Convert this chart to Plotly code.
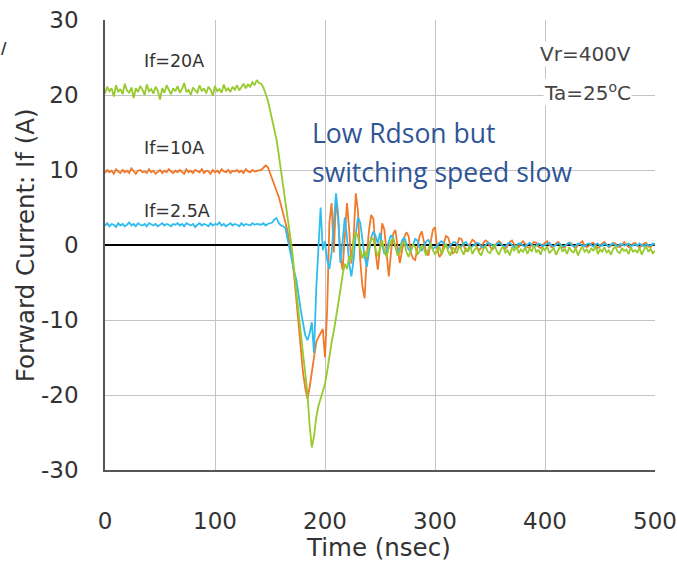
import plotly.graph_objects as go

# ---- time grid (ns)
t_flat = list(range(0, 141, 2))        # 71 samples
t_trans = list(range(142, 301, 2))     # 80 samples
t_tail = list(range(302, 501, 2))      # 100 samples
time_ns = t_flat + t_trans + t_tail

# ---- If = 20A (green)
green_flat = [20.2, 21.1, 20.5, 20.9, 19.8, 21.3, 20.4, 20.8, 20.1, 21.5,
              20.6, 20.3, 21.0, 19.6, 20.9, 20.4, 21.2, 20.7, 20.0, 21.4,
              20.5, 20.8, 20.2, 21.1, 20.6, 19.4, 20.9, 20.3, 21.3, 20.6,
              20.1, 20.9, 20.5, 21.2, 20.3, 20.8, 21.6, 20.4, 20.7, 20.0,
              21.0, 20.6, 20.3, 21.3, 20.5, 20.9, 20.2, 21.1, 20.7, 19.9,
              21.2, 20.5, 20.8, 20.3, 21.4, 20.6, 20.9, 20.4, 21.1, 20.7,
              21.3, 20.6, 21.0, 21.5, 20.9, 21.4, 21.1, 21.7, 21.3, 22.0,
              21.6]
green_trans = [21.5, 21.0, 20.2, 19.3, 18.0, 16.8, 15.4, 14.0, 12.0, 10.0,
               7.7, 5.6, 3.5, 1.5, -0.5, -3.5, -6.4, -9.0, -11.8, -14.5,
               -17.0, -19.7, -24.0, -27.0, -25.5, -23.0, -21.5, -20.5, -19.5, -18.5,
               -16.8, -14.8, -13.0, -11.5, -9.8, -8.2, -6.0, -4.0, -2.5, -3.2,
               -1.5, -2.0, 0.5, 1.7, 1.2, -0.5, -1.8, -0.8, -1.6, -0.2,
               0.9, 0.8, -0.6, -1.5, -0.5, 0.6, -0.8, -1.6, -0.4, 0.5,
               0.9, -0.3, -1.4, -1.0, 0.2, 0.4, -0.9, -1.6, -0.6, 0.1,
               -0.3, -1.3, -0.8, 0.0, -0.5, -1.4, -0.6, 0.2, -0.7, -1.2]
green_tail = [-0.8, -0.2, -1.3, -0.5, 0.2, -0.9, -1.4, -0.3, -0.7, -1.1,
              0.0, -0.6, -1.3, -0.4, -0.9, -0.1, -1.2, -0.6, -0.3, -1.0,
              -1.4, -0.5, -0.2, -0.9, -1.1, -0.4, 0.1, -0.8, -1.3, -0.6,
              -0.2, -1.0, -0.7, -1.4, -0.3, -0.8, -0.1, -1.1, -0.6, -0.9,
              -0.3, -1.2, -0.5, -0.8, 0.0, -1.0, -0.6, -1.3, -0.4, -0.7,
              -0.2, -1.1, -0.8, -0.4, -1.3, -0.6, -0.1, -0.9, -0.5, -1.2,
              -0.3, -0.8, -1.0, -0.4, -1.4, -0.7, -0.2, -0.9, -0.6, -1.1,
              -0.4, -0.8, -0.1, -1.2, -0.6, -0.9, -0.3, -1.0, -0.7, -1.3,
              -0.5, -0.2, -0.9, -1.1, -0.4, -0.8, -0.6, -1.2, -0.3, -0.9,
              -0.7, -1.0, -0.4, -1.3, -0.6, -0.2, -0.9, -0.5, -1.1, -0.8]

# ---- If = 10A (orange)
orange_flat = [9.6, 10.0, 9.7, 9.9, 9.5, 10.1, 9.8, 9.6, 10.0, 9.7,
               9.9, 9.6, 10.2, 9.8, 9.5, 9.9, 10.0, 9.7, 9.8, 9.6,
               10.1, 9.7, 9.9, 9.5, 9.8, 10.0, 9.6, 9.9, 9.7, 10.1,
               9.8, 9.6, 9.9, 9.7, 10.0, 9.8, 9.5, 10.1, 9.7, 9.9,
               9.6, 10.0, 9.8, 9.7, 10.1, 9.6, 9.9, 9.8, 9.5, 10.0,
               9.7, 9.9, 9.6, 10.1, 9.8, 9.7, 10.0, 9.6, 9.9, 9.8,
               10.0, 9.7, 9.9, 9.6, 10.1, 9.8, 9.7, 10.0, 9.8, 9.9,
               10.0]
orange_trans = [10.0, 10.3, 10.6, 10.4, 9.6, 8.9, 8.0, 7.3, 6.4, 5.3,
                4.3, 3.0, 1.8, 0.2, -1.6, -4.2, -7.5, -11.0, -14.2, -17.0,
                -19.0, -20.5, -19.0, -17.0, -14.5, -13.0, -12.3, -11.8, -11.2, -15.0,
                -8.5, 3.0, 5.6, -1.0, 6.0, 3.5, -1.5, -3.3, 1.5, 5.6,
                2.0, -2.5, 1.0, 6.9, 4.5, -2.0, -5.5, -7.1, -1.5, 2.0,
                4.0, 3.5, -1.0, -3.3, -0.5, 2.9, 2.0, -1.5, -4.2, -1.0,
                1.5, 2.0, -0.5, -2.4, -0.8, 1.0, 1.7, 1.2, -1.0, -1.8,
                -2.0, -0.4, 1.2, 1.8, 0.5, -1.0, -1.4, 0.4, 2.0, 2.4]
orange_tail = [-0.5, -1.6, -1.2, 0.2, 1.2, 1.0, -0.2, -1.1, -0.9, 0.1,
               0.9, 0.8, -0.1, -0.8, -0.7, 0.2, 0.7, 0.5, -0.3, -0.7,
               -0.4, 0.3, 0.6, 0.4, -0.2, -0.6, -0.3, 0.2, 0.5, 0.3,
               -0.3, -0.5, -0.1, 0.4, 0.6, 0.1, -0.4, -0.3, 0.2, 0.5,
               0.2, -0.3, -0.4, 0.1, 0.4, 0.3, -0.2, -0.4, 0.0, 0.3,
               0.5, 0.0, -0.3, -0.2, 0.2, 0.4, 0.1, -0.3, -0.3, 0.1,
               0.3, 0.2, -0.2, -0.4, 0.0, 0.3, 0.5, -0.1, -0.3, -0.1,
               0.2, 0.3, -0.1, -0.4, -0.2, 0.2, 0.4, 0.0, -0.3, -0.1,
               0.3, 0.2, -0.2, -0.3, 0.1, 0.4, 0.1, -0.3, -0.2, 0.2,
               0.3, -0.1, -0.3, 0.0, 0.2, 0.3, -0.2, -0.3, 0.1, 0.2]

# ---- If = 2.5A (blue)
blue_flat = [2.6, 2.9, 2.5, 2.8, 2.7, 2.4, 2.9, 2.6, 2.8, 2.5,
             2.7, 3.0, 2.6, 2.8, 2.5, 2.9, 2.7, 2.6, 2.8, 2.5,
             2.9, 2.7, 2.6, 2.8, 2.5, 2.7, 2.9, 2.6, 2.8, 2.7,
             2.5, 2.8, 2.7, 2.9, 2.6, 2.8, 2.5, 2.9, 2.7, 2.6,
             2.8, 2.4, 2.7, 2.9, 2.6, 2.8, 2.7, 2.5, 2.9, 2.6,
             2.8, 2.7, 3.0, 2.6, 2.8, 2.5, 2.7, 2.9, 2.6, 2.8,
             2.7, 2.5, 2.9, 2.6, 2.8, 2.7, 2.6, 2.9, 2.7, 2.8,
             2.7]
blue_trans = [2.7, 2.9, 2.6, 2.8, 2.9, 3.0, 3.4, 3.6, 2.9, 2.6,
              2.5, 2.3, 0.8, -0.8, -2.2, -3.5, -4.7, -7.0, -8.7, -10.4,
              -12.0, -12.7, -11.8, -10.3, -14.4, -6.0, -1.0, 5.0, -0.7, 0.5,
              -2.0, -3.2, -1.0, 3.0, 6.9, 4.0, -2.4, 0.5, 3.7, 1.0,
              -2.5, -4.2, -2.0, 1.5, 3.7, 3.0, 0.5, -1.5, -2.9, -1.0,
              1.0, 1.8, 1.2, 0.2, 1.6, 0.0, -1.2, -0.8, 0.5, 1.3,
              0.9, -0.2, -0.9, -0.5, 0.6, 1.0, 0.3, -0.6, -0.8, 0.0,
              0.8, 0.6, -0.3, -0.7, -0.2, 0.5, 0.7, 0.0, -0.5, -0.3]
blue_tail = [-0.1, 0.3, 0.5, 0.2, -0.2, -0.4, -0.1, 0.3, 0.4, 0.0,
             -0.3, -0.2, 0.2, 0.4, 0.1, -0.3, -0.2, 0.1, 0.3, 0.2,
             -0.2, -0.3, 0.0, 0.3, 0.2, -0.1, -0.3, 0.1, 0.3, 0.1,
             -0.2, -0.2, 0.2, 0.3, 0.0, -0.3, -0.1, 0.2, 0.2, -0.1,
             -0.2, 0.1, 0.3, 0.0, -0.2, -0.1, 0.2, 0.1, -0.2, 0.0,
             0.2, 0.3, -0.1, -0.2, 0.0, 0.2, 0.1, -0.2, -0.1, 0.1,
             0.3, 0.0, -0.2, -0.1, 0.2, 0.1, -0.1, -0.2, 0.1, 0.2,
             0.0, -0.2, 0.1, 0.2, -0.1, -0.1, 0.2, 0.0, -0.2, 0.1,
             0.2, -0.1, -0.2, 0.1, 0.1, -0.1, 0.0, 0.2, -0.2, 0.0,
             0.1, -0.1, 0.2, 0.0, -0.2, 0.1, 0.0, -0.1, 0.2, 0.0]

series_names = ["If=10A", "If=2.5A", "If=20A"]
series_values = [orange_flat + orange_trans + orange_tail,
                 blue_flat + blue_trans + blue_tail,
                 green_flat + green_trans + green_tail]
series_colors = ["#F07A2A", "#2EBDEE", "#96CA2D"]

x_ticks = [0, 100, 200, 300, 400, 500]
y_ticks = [-30, -20, -10, 0, 10, 20, 30]

fig = go.Figure()
for name, vals, col in zip(series_names, series_values, series_colors):
    assert len(vals) == len(time_ns), (name, len(vals), len(time_ns))
    fig.add_trace(go.Scatter(x=time_ns, y=vals, mode="lines", name=name,
                             line=dict(color=col, width=1.8), showlegend=False))

axis_font = dict(family="DejaVu Sans", size=23, color="#333333")
title_font = dict(family="DejaVu Sans", size=24.5, color="#333333")
label_font = dict(family="DejaVu Sans", size=17.5, color="#333333")
cond_font = dict(family="DejaVu Sans", size=20, color="#444444")
note_font = dict(family="Open Sans", size=26.5, color="#2F5597")

fig.update_layout(
    width=677, height=569,
    margin=dict(l=105, r=22, t=20, b=99),
    paper_bgcolor="white", plot_bgcolor="white",
    xaxis=dict(range=[0, 500], tickvals=x_ticks, ticktext=[str(v) for v in x_ticks],
               showgrid=True, gridcolor="#c4c4c4", gridwidth=1, automargin=False,
               showline=True, linecolor="#555555", linewidth=1.5,
               zeroline=False, ticks="", tickfont=axis_font, ticklabelstandoff=30),
    yaxis=dict(range=[-30, 30], tickvals=y_ticks, ticktext=[str(v) for v in y_ticks],
               showgrid=True, gridcolor="#c4c4c4", gridwidth=1, automargin=False,
               showline=True, linecolor="#555555", linewidth=1.5,
               zeroline=True, zerolinecolor="#000000", zerolinewidth=1.5,
               ticks="", tickfont=axis_font, ticklabelstandoff=20),
)

annotations = [
    dict(text="Forward Current: If (A)", xref="paper", yref="paper", x=-0.145, y=0.5,
         textangle=-90, showarrow=False, font=title_font, xanchor="center", yanchor="middle"),
    dict(text="Time (nsec)", xref="paper", yref="paper", x=0.497, y=-0.173,
         showarrow=False, font=title_font, xanchor="center", yanchor="middle"),
    dict(text="If=20A", xref="x", yref="y", x=33.5, y=24.6, showarrow=False,
         xanchor="left", yanchor="middle", font=label_font),
    dict(text="If=10A", xref="x", yref="y", x=33.5, y=12.9, showarrow=False,
         xanchor="left", yanchor="middle", font=label_font),
    dict(text="If=2.5A", xref="x", yref="y", x=33.5, y=4.5, showarrow=False,
         xanchor="left", yanchor="middle", font=label_font),
    dict(text="Vr=400V", xref="x", yref="y", x=479, y=25.5, showarrow=False,
         xanchor="right", yanchor="middle", bgcolor="white", borderpad=0, font=cond_font),
    dict(text="Ta=25<sup>o</sup>C", xref="x", yref="y", x=479, y=20.4, showarrow=False,
         xanchor="right", yanchor="middle", bgcolor="white", borderpad=0, font=cond_font),
    dict(text="Low Rdson but", xref="x", yref="y", x=186, y=14.9, showarrow=False,
         xanchor="left", yanchor="middle", font=note_font),
    dict(text="switching speed slow", xref="x", yref="y", x=186, y=9.7, showarrow=False,
         xanchor="left", yanchor="middle", font=note_font),
    dict(text="<b>/</b>", xref="paper", yref="paper", x=-0.184, y=0.936, showarrow=False,
         xanchor="center", yanchor="middle", font=dict(family="DejaVu Sans", size=15, color="#333333")),
]
fig.update_layout(annotations=annotations)

fig.write_html("out.html")
